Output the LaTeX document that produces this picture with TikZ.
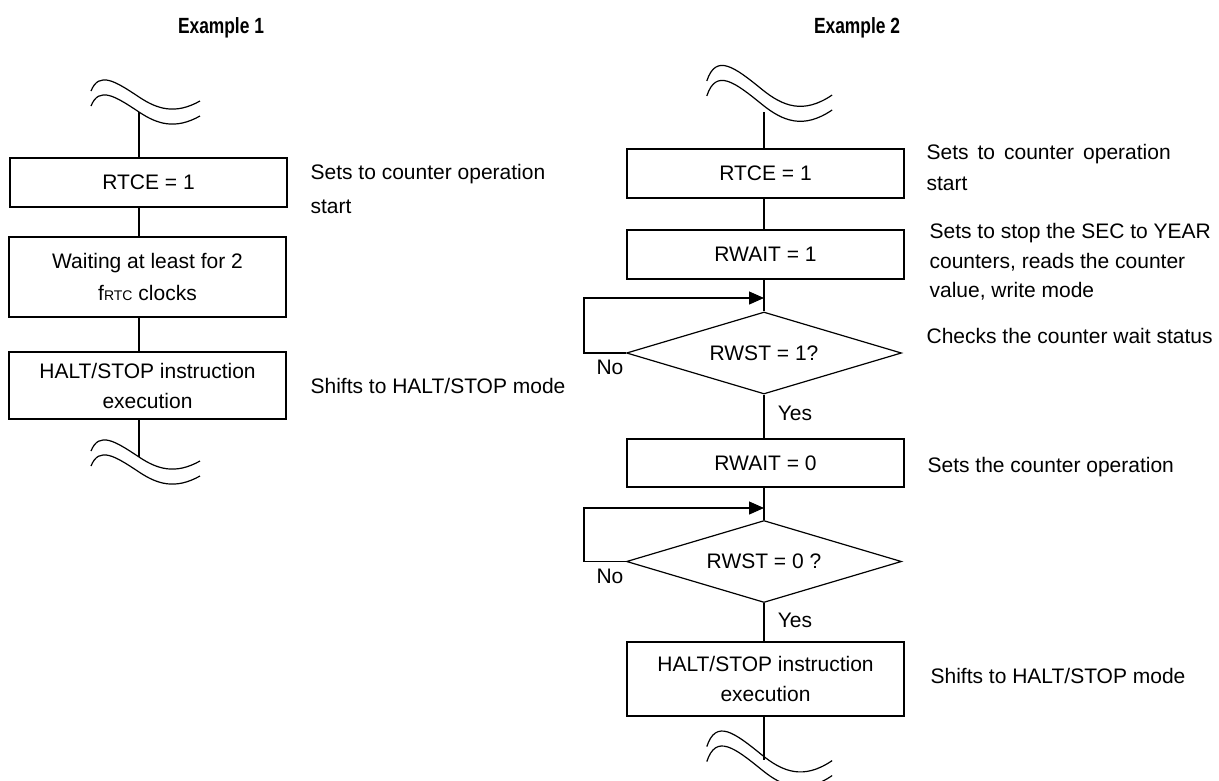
\documentclass[tikz,border=0pt]{standalone}
\usepackage{fontspec}
\usepackage{graphicx}
\setmainfont{Liberation Sans}
\usetikzlibrary{arrows.meta,shapes.geometric}
\newcommand\wavebreak[5]{%
  \begin{scope}[shift={(#1,#2)},xscale=#3,yscale=#4]
    \draw (-48,-6) .. controls (-40,-26) and (-24,-16) .. (0,0) .. controls (18,12) and (36,18) .. (61,4);
    \draw (-48,{#5-6}) .. controls (-40,{#5-26}) and (-24,{#5-16}) .. (0,#5) .. controls (18,{#5+12}) and (36,{#5+18}) .. (61,{#5+4});
  \end{scope}}
\begin{document}
\begin{tikzpicture}[x=1pt,y=-1pt,line width=1.2pt,
  box/.style={draw, rectangle, minimum width=277pt, inner sep=0pt, align=center, font=\fontsize{21}{30}\selectfont},
  dec/.style={draw, diamond, aspect=3.35, minimum width=275pt, minimum height=82pt, inner sep=0pt, font=\fontsize{21}{30}\selectfont},
  note/.style={anchor=north west, inner sep=0pt, align=left},
  lbl/.style={inner sep=0pt, font=\fontsize{21}{25}\selectfont},
  ttl/.style={inner sep=0pt, font=\fontsize{22}{22}\selectfont\bfseries},
  arr/.style={-{Triangle[length=15pt,width=13pt]}}]
\useasboundingbox (0,0) rectangle (1219,780);

% titles
\node[ttl] (t1) at (221,28) {\scalebox{0.79}[1]{Example 1}};
\node[ttl] (t2) at (857,28) {\scalebox{0.79}[1]{Example 2}};

% ---------- Example 1 ----------
\wavebreak{139}{97}{1}{1}{15}
\wavebreak{139}{457}{1}{1}{15}
\coordinate (lt) at (139,112);
\coordinate (lb) at (139,457);
\node[box, minimum height=49pt] (l1) at (148.5,182.5) {RTCE = 1};
\node[box, minimum height=80pt, font=\fontsize{21}{32}\selectfont] (l2) at (147.5,277) {Waiting at least for 2\\f{\fontsize{14}{14}\selectfont RTC} clocks};
\node[box, minimum height=67pt] (l3) at (147.5,385.5) {HALT/STOP instruction\\execution};
\draw (lt) -- (lt |- l1.north);
\draw (l1.south -| lt) -- (l2.north -| lt);
\draw (l2.south -| lt) -- (l3.north -| lt);
\draw (l3.south -| lt) -- (lb);

\node[note, font=\fontsize{21}{34}\selectfont] (n1) at (310,164) {Sets to counter operation\\start};
\node[note, font=\fontsize{21}{30}\selectfont] (n2) at (310,378) {Shifts to HALT/STOP mode};

% ---------- Example 2 ----------
\wavebreak{762}{89.4}{1.15}{1.4}{10.7}
\wavebreak{762}{755}{1.15}{1.4}{10.7}
\coordinate (rt) at (764,112);
\coordinate (rb) at (764,760);
\node[box, minimum height=49pt] (r1) at (765.5,173.5) {RTCE = 1};
\node[box, minimum height=49pt] (r2) at (765.5,254.5) {RWAIT = 1};
\node[dec] (d1) at (764,353) {RWST = 1?};
\node[box, minimum height=48pt] (r3) at (765.5,463) {RWAIT = 0};
\node[dec] (d2) at (764,561.5) {RWST = 0 ?};
\node[box, minimum height=74pt] (r4) at (765.5,679) {HALT/STOP instruction\\execution};

\draw (rt) -- (rt |- r1.north);
\draw (r1.south -| rt) -- (r2.north -| rt);
\draw (r2.south -| rt) -- (d1.north);
\draw (d1.south) -- (r3.north -| rt);
\draw (r3.south -| rt) -- (d2.north);
\draw (d2.south) -- (r4.north -| rt);
\draw (r4.south -| rt) -- (rb);

\coordinate (j1) at (764,298);
\coordinate (j2) at (764,508);
\draw[arr] (d1.west) -- ++(-42,0) |- (j1);
\draw[arr] (d2.west) -- ++(-42,0) |- (j2);

\node[lbl] (no1) at (610,367.5) {No};
\node[lbl] (yes1) at (795,413) {Yes};
\node[lbl] (no2) at (610,576.5) {No};
\node[lbl] (yes2) at (795,620.5) {Yes};

\node[note, font=\fontsize{21}{31}\selectfont] (m1) at (926,144) {\spaceskip=9pt Sets to counter operation\\start};
\node[note, font=\fontsize{21}{29.5}\selectfont] (m2) at (929,223) {Sets to stop the SEC to YEAR\\counters, reads the counter\\value, write mode};
\node[note, font=\fontsize{21}{30}\selectfont] (m3) at (926,328) {Checks the counter wait status};
\node[note, font=\fontsize{21}{30}\selectfont] (m4) at (927,457) {Sets the counter operation};
\node[note, font=\fontsize{21}{30}\selectfont] (m5) at (930,668) {Shifts to HALT/STOP mode};
\end{tikzpicture}
\end{document}
